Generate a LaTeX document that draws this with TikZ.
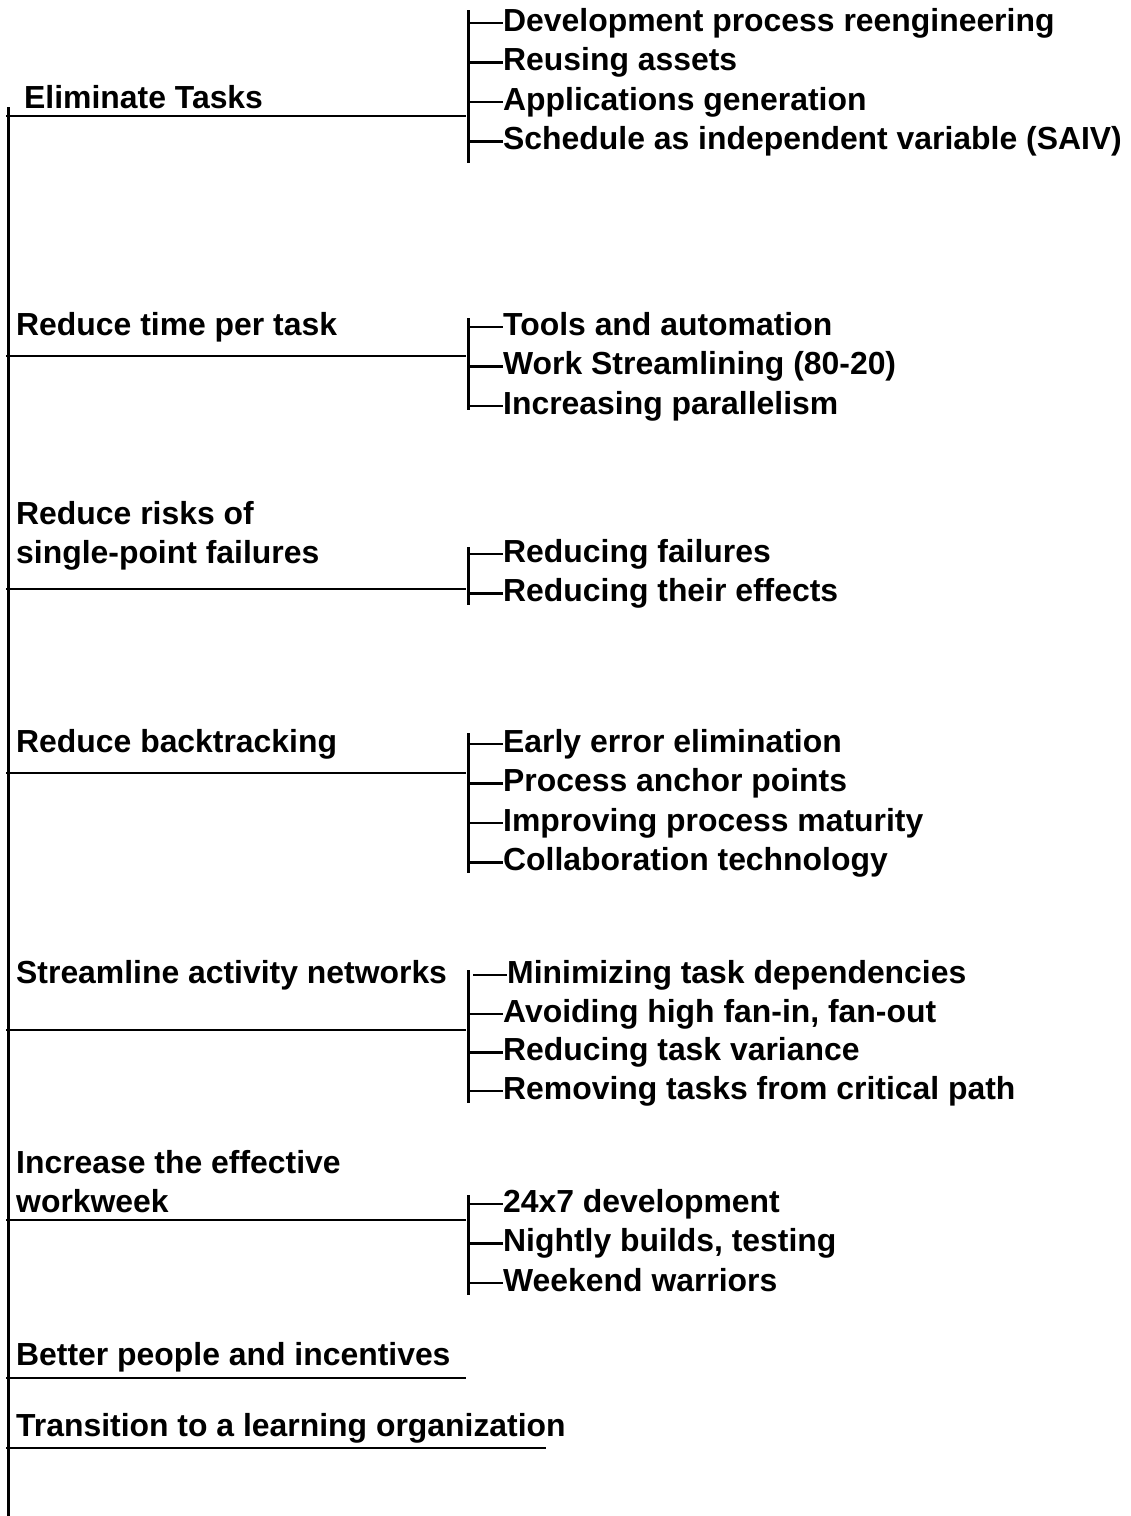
\documentclass[tikz,border=0pt]{standalone}
\usepackage{fontspec}
\setmainfont{Liberation Sans}
\usetikzlibrary{positioning}
\usetikzlibrary{calc}

\begin{document}
\begin{tikzpicture}[x=1pt, y=-1pt,
    every node/.style={font=\bfseries\fontsize{31.9}{39}\selectfont, inner sep=0pt},
    goal/.style={anchor=base west, align=left},
    item/.style={anchor=west, text height=23pt, text depth=7pt},
    trunk/.style={line width=2.6pt},
    bar/.style={line width=3pt},
    twig/.style={line width=2.2pt}]
    \useasboundingbox (0,0) rectangle (1131,1516);

    % Draw the main spine
    \coordinate (root) at (8,107);
    \coordinate (foot) at (8,1516);
    \draw[bar] (root) -- (foot);

    % Eliminate tasks
    \node[goal] (elim) at (24,108) {Eliminate Tasks};
    \coordinate (elimL) at (6,116);
    \coordinate (elimR) at (466,116);
    \draw[trunk] (elimL) -- (elimR);
    \coordinate (elimtop) at (468,10);
    \coordinate (elimbot) at (468,163);
    \draw[bar] (elimtop) -- (elimbot);
    \foreach \t [count=\i] in {Development process reengineering, Reusing assets,
        Applications generation, Schedule as independent variable (SAIV)} {
      \node[item] (elim\i) at (503, {23+39.5*(\i-1)}) {\t};
      \draw[twig] (elim\i.west -| elimtop) -- (elim\i.west);
    }

    % Reduce time per task
    \node[goal] (time) at (16,335) {Reduce time per task};
    \coordinate (timeL) at (6,356);
    \coordinate (timeR) at (466,356);
    \draw[trunk] (timeL) -- (timeR);
    \coordinate (timetop) at (468,318);
    \coordinate (timebot) at (468,410);
    \draw[bar] (timetop) -- (timebot);
    \foreach \t [count=\i] in {Tools and automation, Work Streamlining (80-20),
        Increasing parallelism} {
      \node[item] (time\i) at (503, {327+39.5*(\i-1)}) {\t};
      \draw[twig] (time\i.west -| timetop) -- (time\i.west);
    }

    % Reduce risks of single-point failures
    \node[goal] (risk) at (16,563) {Reduce risks of\\single-point failures};
    \coordinate (riskL) at (6,589);
    \coordinate (riskR) at (466,589);
    \draw[trunk] (riskL) -- (riskR);
    \coordinate (risktop) at (468,547);
    \coordinate (riskbot) at (468,605);
    \draw[bar] (risktop) -- (riskbot);
    \foreach \t [count=\i] in {Reducing failures, Reducing their effects} {
      \node[item] (risk\i) at (503, {554+39.5*(\i-1)}) {\t};
      \draw[twig] (risk\i.west -| risktop) -- (risk\i.west);
    }

    % Reduce backtracking
    \node[goal] (back) at (16,752) {Reduce backtracking};
    \coordinate (backL) at (6,773);
    \coordinate (backR) at (466,773);
    \draw[trunk] (backL) -- (backR);
    \coordinate (backtop) at (468,733);
    \coordinate (backbot) at (468,873);
    \draw[bar] (backtop) -- (backbot);
    \foreach \t [count=\i] in {Early error elimination, Process anchor points,
        Improving process maturity, Collaboration technology} {
      \node[item] (back\i) at (503, {744+39.5*(\i-1)}) {\t};
      \draw[twig] (back\i.west -| backtop) -- (back\i.west);
    }

    % Streamline activity networks
    \node[goal] (net) at (16,983) {Streamline activity networks};
    \coordinate (netL) at (6,1030);
    \coordinate (netR) at (466,1030);
    \draw[trunk] (netL) -- (netR);
    \coordinate (nettop) at (468,970);
    \coordinate (netbot) at (468,1103);
    \draw[bar] (nettop) -- (netbot);
    \node[item] (net1) at (507,975) {Minimizing task dependencies};
    \draw[twig] ($(net1.west -| nettop)+(5,0)$) -- (net1.west);
    \foreach \t [count=\i from 2] in {{Avoiding high fan-in, fan-out},
        Reducing task variance, Removing tasks from critical path} {
      \node[item] (net\i) at (503, {1014+38.5*(\i-2)}) {\t};
      \draw[twig] (net\i.west -| nettop) -- (net\i.west);
    }

    % Increase the effective workweek
    \node[goal] (week) at (16,1212) {Increase the effective\\workweek};
    \coordinate (weekL) at (6,1220);
    \coordinate (weekR) at (466,1220);
    \draw[trunk] (weekL) -- (weekR);
    \coordinate (weektop) at (468,1195);
    \coordinate (weekbot) at (468,1295);
    \draw[bar] (weektop) -- (weekbot);
    \foreach \t [count=\i] in {24x7 development, {Nightly builds, testing},
        Weekend warriors} {
      \node[item] (week\i) at (503, {1204+39.5*(\i-1)}) {\t};
      \draw[twig] (week\i.west -| weektop) -- (week\i.west);
    }

    % Leaves without sub-items
    \node[goal] (people) at (16,1365) {Better people and incentives};
    \coordinate (peopleL) at (6,1378);
    \coordinate (peopleR) at (466,1378);
    \draw[trunk] (peopleL) -- (peopleR);

    \node[goal] (learn) at (16,1436) {Transition to a learning organization};
    \coordinate (learnL) at (6,1448);
    \coordinate (learnR) at (546,1448);
    \draw[trunk] (learnL) -- (learnR);
\end{tikzpicture}
\end{document}
